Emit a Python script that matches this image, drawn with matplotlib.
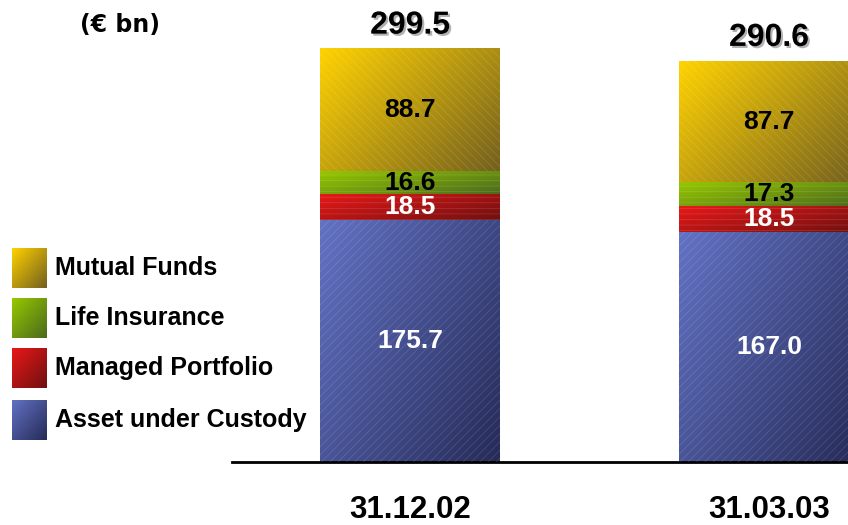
import numpy as np
import matplotlib.pyplot as plt
import matplotlib.patheffects as pe
from matplotlib.colors import LinearSegmentedColormap

plt.rcParams['font.family'] = ['Liberation Sans', 'DejaVu Sans']
plt.rcParams['font.weight'] = 'bold'
plt.rcParams['hatch.linewidth'] = 0.5

dates = ['31.12.02', '31.03.03']
series = ['Asset under Custody', 'Managed Portfolio', 'Life Insurance', 'Mutual Funds']
custody = [175.7, 167.0]
managed = [18.5, 18.5]
life = [16.6, 17.3]
mutual = [88.7, 87.7]
totals = [299.5, 290.6]

values = [custody, managed, life, mutual]
# light / dark end of each gradient, label colour, hatch
shades = [('#6272c4', '#262b58', 'white', '////'),
          ('#e81818', '#701010', 'white', '---'),
          ('#96c800', '#4c6a1c', 'black', '---'),
          ('#ffd200', '#74601e', 'black', '\\\\\\\\')]


def gradient_fill(ax, patch, light, dark):
    x0, y0 = patch.get_xy()
    w, h = patch.get_width(), patch.get_height()
    n = 80
    xx, yy = np.meshgrid(np.linspace(0, 1, n), np.linspace(0, 1, n))
    t = (xx * 0.6 + yy * 0.4)
    cmap = LinearSegmentedColormap.from_list('g', [light, dark])
    ax.imshow(t, cmap=cmap, extent=(x0, x0 + w, y0, y0 + h), aspect='auto',
              clip_path=patch, zorder=2, interpolation='bilinear')


fig = plt.figure(figsize=(8.48, 5.25), dpi=100)
ax = fig.add_axes([232 / 848, 63 / 525, 616 / 848, 462 / 525])

x = np.arange(len(dates))
bottom = np.zeros(len(dates))
for vals, (light, dark, tc, hatch) in zip(values, shades):
    bars = ax.bar(x, vals, width=0.5, bottom=bottom, color=light, linewidth=0, zorder=1)
    for b in bars:
        gradient_fill(ax, b, light, dark)
    ax.bar(x, vals, width=0.5, bottom=bottom, color='none', hatch=hatch,
           edgecolor=(1, 1, 1, 0.15), linewidth=0, zorder=3)
    for xi, v, b0 in zip(x, vals, bottom):
        ax.text(xi, b0 + v / 2, f'{v:.1f}', ha='center', va='center',
                fontsize=19, fontweight='bold', color=tc, zorder=5)
    bottom = bottom + np.array(vals)

for xi, t in zip(x, totals):
    ax.annotate(f'{t:.1f}', (xi, t), xytext=(0, 6), textcoords='offset points',
                ha='center', va='bottom', fontsize=23, fontweight='bold',
                path_effects=[pe.withSimplePatchShadow(offset=(1.5, -1.5),
                                                       shadow_rgbFace='0.4', alpha=0.5)])

ax.set_xlim(-0.496, 1.22)
ax.set_ylim(0, 335)
ax.set_xticks(x)
ax.set_xticklabels(dates, fontsize=22.5, fontweight='bold')
ax.tick_params(axis='x', length=0, pad=24)
ax.set_yticks([])
for s in ['top', 'left', 'right']:
    ax.spines[s].set_visible(False)
ax.spines['bottom'].set_linewidth(2)
ax.spines['bottom'].set_color('black')

fig.text(120 / 848, 1 - 25 / 525, '(€ bn)', ha='center', va='center',
         fontsize=17, fontweight='bold', family='DejaVu Sans')

# legend, top to bottom
leg_rows = [268, 318, 368, 420]
for (name, (light, dark, tc, hatch)), yc in zip(list(zip(series, shades))[::-1], leg_rows):
    sw = fig.add_axes([12 / 848, 1 - (yc + 20) / 525, 35 / 848, 40 / 525])
    n = 40
    xx, yy = np.meshgrid(np.linspace(0, 1, n), np.linspace(0, 1, n))
    cmap = LinearSegmentedColormap.from_list('g', [light, dark])
    sw.imshow((xx + yy) / 2, cmap=cmap, aspect='auto', interpolation='bilinear')
    sw.axis('off')
    fig.text(55 / 848, 1 - yc / 525, name, ha='left', va='center',
             fontsize=18, fontweight='bold')

fig.savefig('out.png', dpi=100)
